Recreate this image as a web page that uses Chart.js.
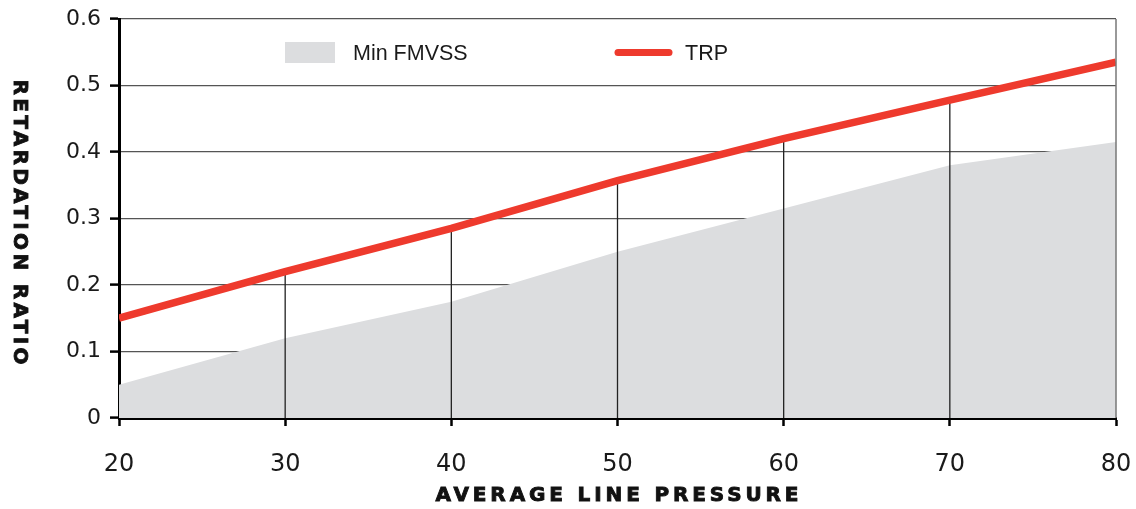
<!DOCTYPE html>
<html>
<head>
<meta charset="utf-8">
<script src="https://cdn.jsdelivr.net/npm/chart.js@4"></script>
<style>
  html, body { margin: 0; padding: 0; background: #fff; }
  #wrap { width: 1136px; height: 509px; }
</style>
</head>
<body>
<div id="wrap"><canvas id="chart" width="1136" height="509"></canvas></div>
<script>
// data
const pressure = [20, 30, 40, 50, 60, 70, 80];
const minFmvss = [0.05, 0.12, 0.175, 0.25, 0.315, 0.38, 0.415];
const trp = [0.15, 0.22, 0.285, 0.357, 0.42, 0.478, 0.535];
const yTickLabels = ['0', '0.1', '0.2', '0.3', '0.4', '0.5', '0.6'];
const xTickLabels = ['20', '30', '40', '50', '60', '70', '80'];
const xTitle = 'AVERAGE LINE PRESSURE';
const yTitle = 'RETARDATION RATIO';

const red = '#ee3a2d';
const gray = '#dcdddf';
const ink = '#1a1a1a';

// drop lines from the axis up to the TRP line (inner x positions only)
const dropLines = [];
for (let i = 1; i < pressure.length - 1; i++) {
  dropLines.push({x: pressure[i], y: 0});
  dropLines.push({x: pressure[i], y: trp[i]});
  dropLines.push({x: pressure[i], y: null});
}

// spaced-out heavy text fitted to a given width, centred on cx
function spacedText(c, text, cx, cy, width) {
  c.letterSpacing = '0px';
  const plain = c.measureText(text).width;
  const gap = (width - plain) / (text.length - 1);
  c.letterSpacing = gap + 'px';
  c.fillText(text, cx - width / 2, cy);
  c.strokeText(text, cx - width / 2, cy);
  c.letterSpacing = '0px';
}

// titles, legend and right frame edge
const decor = {
  id: 'decor',
  afterDatasetsDraw(chart) {
    const c = chart.ctx;
    const area = chart.chartArea;
    c.save();
    // right frame line
    c.strokeStyle = '#777';
    c.lineWidth = 1.5;
    c.beginPath();
    c.moveTo(area.right, area.top);
    c.lineTo(area.right, area.bottom);
    c.stroke();

    // legend
    c.fillStyle = gray;
    c.fillRect(285, 42, 50, 21);
    c.strokeStyle = red;
    c.lineWidth = 7;
    c.lineCap = 'round';
    c.beginPath();
    c.moveTo(618, 52.5);
    c.lineTo(669, 52.5);
    c.stroke();
    c.fillStyle = ink;
    c.font = '21.5px "Liberation Sans", Arial, sans-serif';
    c.textBaseline = 'middle';
    c.textAlign = 'left';
    c.fillText(chart.data.datasets[2].label, 353, 54);
    c.fillText(chart.data.datasets[0].label, 685, 54);

    // axis titles
    c.font = 'bold 20px "DejaVu Sans", sans-serif';
    c.fillStyle = '#111';
    c.strokeStyle = '#111';
    c.lineWidth = 0.9;
    c.lineCap = 'butt';
    spacedText(c, xTitle, 617, 496, 363);
    c.translate(19, 222);
    c.rotate(Math.PI / 2);
    spacedText(c, yTitle, 0, 0, 285);
    c.restore();
  }
};

const chart = new Chart(document.getElementById('chart'), {
  type: 'line',
  data: {
    datasets: [{
      label: 'TRP',
      data: pressure.map((x, i) => ({x: x, y: trp[i]})),
      borderColor: red,
      borderWidth: 7.5,
      pointRadius: 0,
      fill: false,
      order: 0
    }, {
      label: 'drop',
      data: dropLines,
      borderColor: '#222',
      borderWidth: 1.3,
      pointRadius: 0,
      spanGaps: false,
      fill: false,
      order: 1
    }, {
      label: 'Min FMVSS',
      data: pressure.map((x, i) => ({x: x, y: minFmvss[i]})),
      borderWidth: 0,
      borderColor: gray,
      backgroundColor: gray,
      pointRadius: 0,
      fill: 'origin',
      order: 2
    }]
  },
  options: {
    responsive: false,
    animation: false,
    events: [],
    layout: { padding: { top: 19, right: 20, left: 0, bottom: 0 } },
    plugins: {
      legend: { display: false },
      tooltip: { enabled: false }
    },
    scales: {
      x: {
        type: 'linear',
        min: 20,
        max: 80,
        afterFit(scale) {
          scale.height = 91;
          scale.paddingLeft = 0;
          scale.paddingRight = 0;
        },
        ticks: {
          stepSize: 10,
          padding: 24,
          color: ink,
          font: { family: '"DejaVu Sans", sans-serif', size: 24 },
          callback: (v, i) => xTickLabels[i]
        },
        grid: {
          drawOnChartArea: false,
          drawTicks: true,
          tickLength: 8,
          tickColor: '#000',
          tickWidth: 2.5
        },
        border: { display: true, color: '#000', width: 3 }
      },
      y: {
        min: 0,
        max: 0.6,
        afterFit(scale) {
          scale.width = 119;
          scale.paddingTop = 0;
          scale.paddingBottom = 0;
        },
        ticks: {
          stepSize: 0.1,
          padding: 9,
          color: ink,
          font: { family: '"DejaVu Sans", sans-serif', size: 22 },
          callback: (v, i) => yTickLabels[i]
        },
        grid: {
          color: '#555',
          lineWidth: 1.2,
          drawTicks: true,
          tickLength: 9,
          tickColor: '#000',
          tickWidth: 2.5
        },
        border: { display: true, color: '#000', width: 3 }
      }
    }
  },
  plugins: [decor]
});
</script>
</body>
</html>
